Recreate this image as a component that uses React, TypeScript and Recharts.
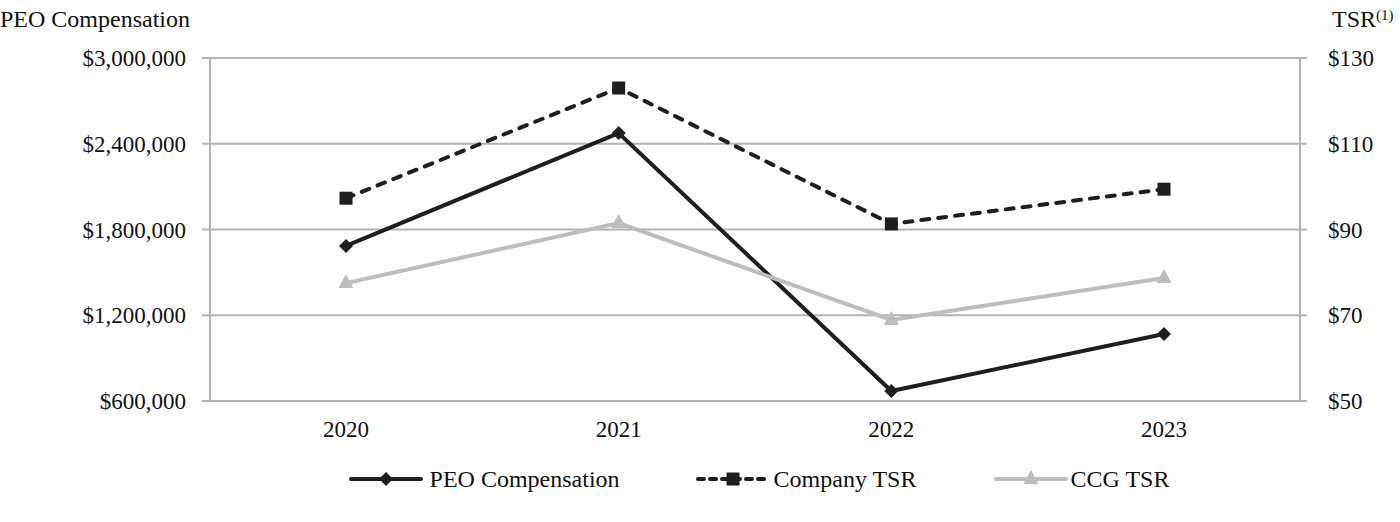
import React from 'react';
import { LineChart, Line, XAxis, YAxis, CartesianGrid, Legend } from 'recharts';

const years = ['2020', '2021', '2022', '2023'];
const peoCompensation = [1685000, 2475000, 670000, 1069000];
const companyTsr = [97.3, 123.0, 91.3, 99.4];
const ccgTsr = [77.5, 91.5, 68.9, 78.7];

const leftTicks = [600000, 1200000, 1800000, 2400000, 3000000];
const rightTicks = [50, 70, 90, 110, 130];
const bandEdges = [0, 1, 2, 3, 4];

const FONT = '"Liberation Serif", "Times New Roman", serif';
const DARK = '#1e1e1e';
const LIGHT = '#bdbdbd';
const GRID = '#b3b3b3';

const data = years.map((year, i) => ({
  year,
  peo: peoCompensation[i],
  company: companyTsr[i],
  ccg: ccgTsr[i],
}));

const money = (v: number) => '$' + v.toLocaleString('en-US');

const Diamond = ({ cx, cy, fill }: any) => (
  <path d={`M${cx},${cy - 7}L${cx + 7},${cy}L${cx},${cy + 7}L${cx - 7},${cy}Z`} fill={fill} />
);
const Square = ({ cx, cy, fill }: any) => (
  <rect x={cx - 6.5} y={cy - 6.5} width={13} height={13} fill={fill} />
);
const Triangle = ({ cx, cy, fill }: any) => (
  <path d={`M${cx},${cy - 9}L${cx + 7.5},${cy + 5}L${cx - 7.5},${cy + 5}Z`} fill={fill} />
);

const legendItems = [
  { name: 'PEO Compensation', color: DARK, dash: undefined, Marker: Diamond, gap: 0, pad: 7 },
  { name: 'Company TSR', color: DARK, dash: '6 6', Marker: Square, gap: 76, pad: 4 },
  { name: 'CCG TSR', color: LIGHT, dash: undefined, Marker: Triangle, gap: 78, pad: 2 },
];

const renderLegend = () => (
  <div
    style={{
      height: 40,
      display: 'flex',
      justifyContent: 'center',
      alignItems: 'center',
      fontFamily: FONT,
      fontSize: 24,
      color: '#111',
      paddingLeft: 118,
    }}
  >
    {legendItems.map((item) => (
      <div key={item.name} style={{ display: 'flex', alignItems: 'center', marginLeft: item.gap }}>
        <svg width={74} height={20}>
          <line
            x1={2}
            y1={10}
            x2={72}
            y2={10}
            stroke={item.color}
            strokeWidth={4}
            strokeDasharray={item.dash}
            strokeLinecap="round"
          />
          <item.Marker cx={37} cy={10} fill={item.color} />
        </svg>
        <span style={{ marginLeft: item.pad }}>{item.name}</span>
      </div>
    ))}
  </div>
);

const tickStyle = { fontFamily: FONT, fontSize: 23, fill: '#111' };

const titleStyle: React.CSSProperties = {
  position: 'absolute',
  top: 8,
  fontFamily: FONT,
  fontSize: 24,
  lineHeight: '23px',
  color: '#111',
};

export default function App() {
  return (
    <div style={{ position: 'absolute', left: 0, top: 0, width: 1400, height: 522, background: '#fff' }}>
      <div style={{ ...titleStyle, left: 0 }}>PEO Compensation</div>
      <div style={{ ...titleStyle, left: 1332 }}>
        TSR<sup style={{ fontSize: 15, verticalAlign: 'top', position: 'relative', top: -4 }}>(1)</sup>
      </div>
      <LineChart
        width={1400}
        height={522}
        data={data}
        margin={{ top: 58, right: 0, left: 0, bottom: 23 }}
      >
        <CartesianGrid
          vertical={false}
          stroke={GRID}
          strokeWidth={2}
          xAxisId="years"
          yAxisId="left"
        />
        <XAxis
          xAxisId="edges"
          type="number"
          domain={[0, 4]}
          ticks={bandEdges}
          tickFormatter={() => ''}
          height={0}
          tickSize={8}
          stroke={GRID}
          strokeWidth={2}
          interval={0}
        />
        <XAxis
          xAxisId="years"
          dataKey="year"
          height={58}
          padding={{ left: 136, right: 136 }}
          axisLine={false}
          tickLine={false}
          tickSize={0}
          tickMargin={20}
          tick={tickStyle}
          interval={0}
        />
        <YAxis
          yAxisId="left"
          orientation="left"
          width={210}
          domain={[600000, 3000000]}
          ticks={leftTicks}
          tickFormatter={money}
          tick={tickStyle}
          tickSize={8}
          tickMargin={16}
          stroke={GRID}
          strokeWidth={2}
          interval={0}
        />
        <YAxis
          yAxisId="right"
          orientation="right"
          width={100}
          domain={[50, 130]}
          ticks={rightTicks}
          tickFormatter={money}
          tick={tickStyle}
          tickSize={7}
          tickMargin={21}
          stroke={GRID}
          strokeWidth={2}
          interval={0}
        />
        <Legend verticalAlign="bottom" height={40} content={renderLegend} />
        <Line
          xAxisId="years"
          yAxisId="left"
          dataKey="peo"
          name="PEO Compensation"
          stroke={DARK}
          strokeWidth={4}
          dot={(p: any) => <Diamond key={`peo-${p.index}`} cx={p.cx} cy={p.cy} fill={DARK} />}
          activeDot={false}
          isAnimationActive={false}
        />
        <Line
          xAxisId="years"
          yAxisId="right"
          dataKey="company"
          name="Company TSR"
          stroke={DARK}
          strokeWidth={4}
          strokeDasharray="8 9"
          strokeLinecap="round"
          dot={(p: any) => <Square key={`co-${p.index}`} cx={p.cx} cy={p.cy} fill={DARK} />}
          activeDot={false}
          isAnimationActive={false}
        />
        <Line
          xAxisId="years"
          yAxisId="right"
          dataKey="ccg"
          name="CCG TSR"
          stroke={LIGHT}
          strokeWidth={4}
          dot={(p: any) => <Triangle key={`ccg-${p.index}`} cx={p.cx} cy={p.cy} fill={LIGHT} />}
          activeDot={false}
          isAnimationActive={false}
        />
      </LineChart>
    </div>
  );
}
